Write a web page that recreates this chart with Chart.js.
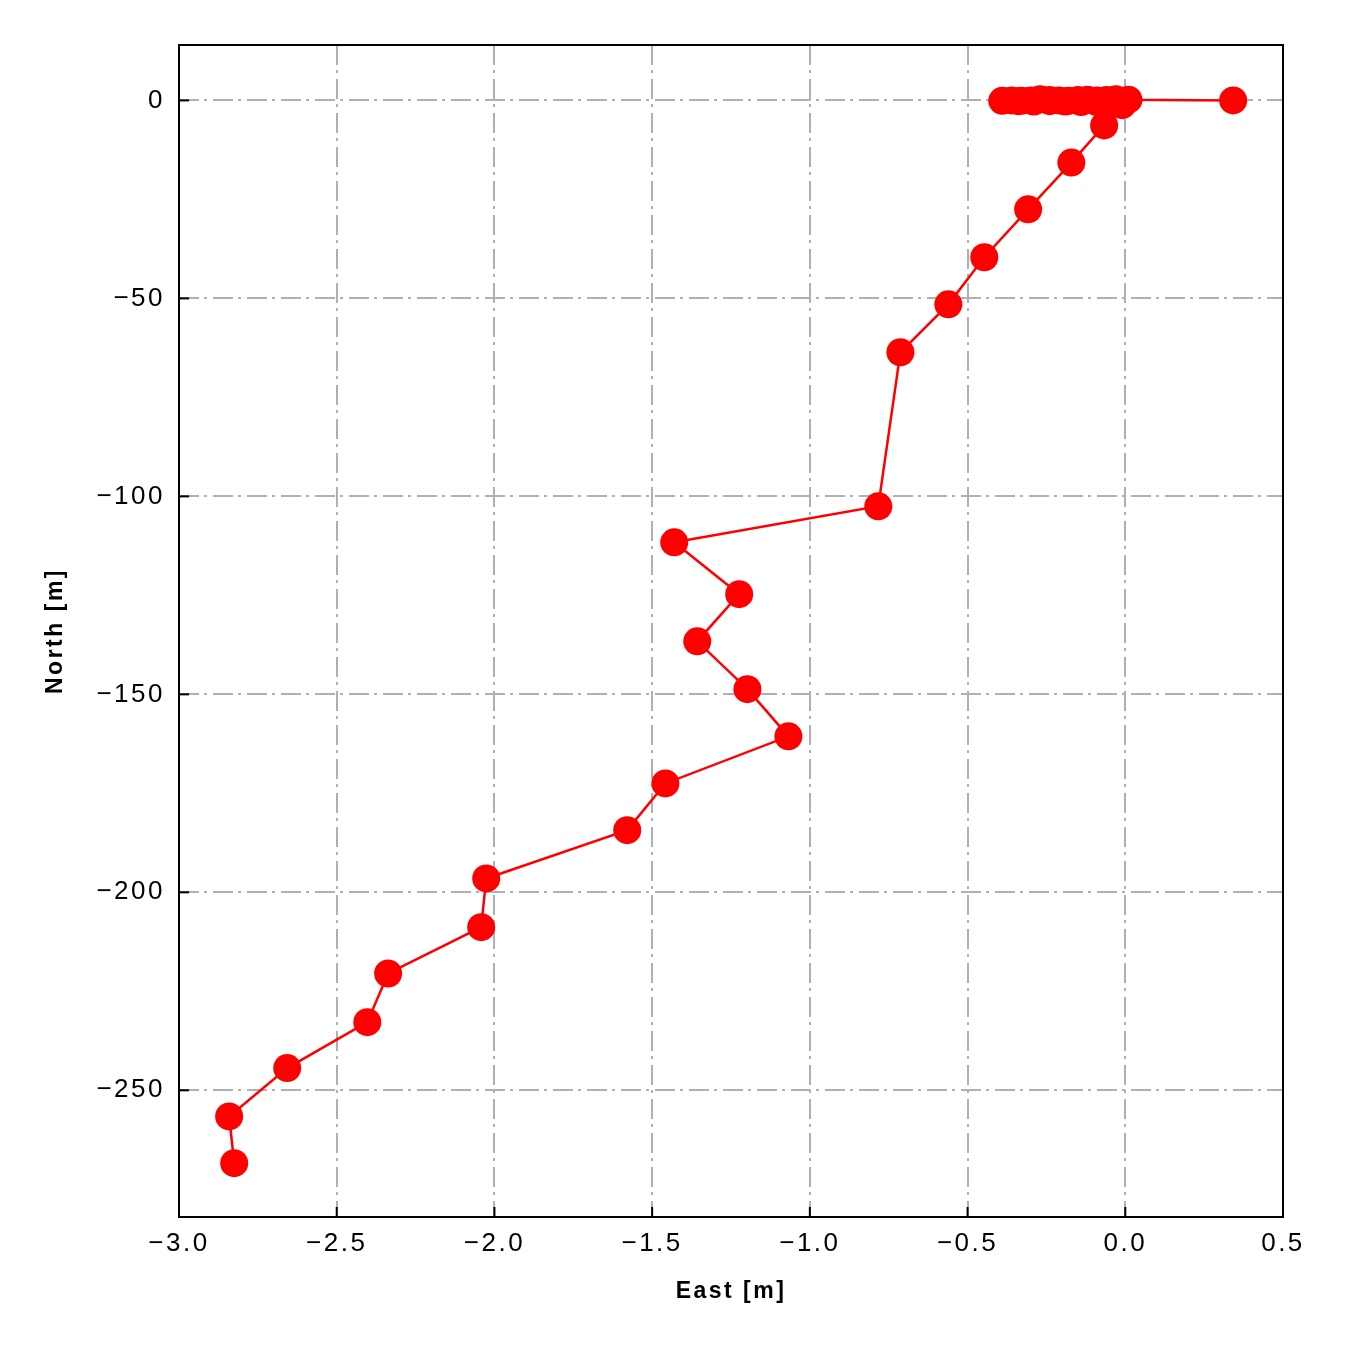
<!DOCTYPE html>
<html>
<head>
<meta charset="utf-8">
<script src="https://cdn.jsdelivr.net/npm/chart.js@4"></script>
<style>
  html, body { margin: 0; padding: 0; background: #fff; }
  #wrap { width: 1350px; height: 1350px; }
</style>
</head>
<body>
<div id="wrap"><canvas id="chartContainer" width="1350" height="1350"></canvas></div>
<script>
// track points, in order
const eastVals = [0.342, 0.01, -0.03, -0.06, -0.09, -0.12, -0.15, -0.18, -0.21, -0.24, -0.27, -0.3, -0.33, -0.36, -0.39,
  -0.34, -0.29, -0.24, -0.19, -0.14, -0.09, -0.04, -0.01,
  -0.067, -0.171, -0.308, -0.447, -0.561, -0.713, -0.783, -1.430, -1.224, -1.357, -1.198, -1.068,
  -1.458, -1.579, -2.026, -2.042, -2.337, -2.403, -2.657, -2.841, -2.825];
const northVals = [0, 0.2, 0.3, 0.1, 0.0, 0.2, 0.1, -0.1, 0.0, 0.1, 0.3, 0.0, -0.1, 0.0, -0.1,
  -0.2, -0.3, -0.2, -0.3, -0.4, -0.4, -0.6, -1.2,
  -6.3, -15.7, -27.5, -39.6, -51.5, -63.6, -102.5, -111.6, -124.7, -136.6, -148.7, -160.6,
  -172.5, -184.3, -196.5, -208.8, -220.5, -232.8, -244.4, -256.6, -268.4];

const xTicks = [-3.0, -2.5, -2.0, -1.5, -1.0, -0.5, 0.0, 0.5];
const yTicks = [0, -50, -100, -150, -200, -250];

function fmtMinus(s) {
  return s.replace('-', '\u2212')
}

// the reference font runs wide, spread the letters a bit
const spacing = {
  id: 'spacing',
  beforeLayout(chart) { chart.ctx.letterSpacing = '2.5px' },
  beforeDraw(chart) { chart.ctx.letterSpacing = '2.5px' },
}

const frame = {
  id: 'frame',
  afterDraw(chart) {
    const { ctx, chartArea: a, scales } = chart;
    ctx.save();
    ctx.strokeStyle = '#000';
    ctx.lineWidth = 2;
    // inward ticks
    xTicks.forEach((v) => {
      const px = scales.x.getPixelForValue(v);
      ctx.beginPath();
      ctx.moveTo(px, a.bottom);
      ctx.lineTo(px, a.bottom - 10);
      ctx.stroke();
    })
    yTicks.forEach((v) => {
      const py = scales.y.getPixelForValue(v);
      ctx.beginPath();
      ctx.moveTo(a.left, py);
      ctx.lineTo(a.left + 10, py);
      ctx.stroke();
    })
    ctx.strokeRect(a.left, a.top, a.right - a.left, a.bottom - a.top);
    ctx.restore();
  }
}

const grid = {
  display: true,
  color: '#b0b0b0',
  lineWidth: 2,
  drawTicks: false,
}

new Chart(document.getElementById('chartContainer'), {
  type: 'scatter',
  data: {
    datasets: [{
      data: eastVals.map((e, i) => ({ x: e, y: northVals[i] })),
      showLine: true,
      borderColor: '#ff0000',
      backgroundColor: '#ff0000',
      borderWidth: 2.5,
      pointRadius: 14,
      pointBorderWidth: 0,
      pointHoverRadius: 14,
    }]
  },
  options: {
    responsive: false,
    animation: false,
    events: [],
    layout: { padding: { top: 45, right: 67, left: 0, bottom: 0 } },
    plugins: { legend: { display: false }, tooltip: { enabled: false } },
    scales: {
      x: {
        type: 'linear',
        min: -3.0,
        max: 0.5,
        afterBuildTicks: (s) => { s.ticks = xTicks.map(v => ({ value: v })) },
        afterFit: (s) => { s.height = 133 },
        grid: grid,
        border: { display: false, dash: [20, 5, 3, 6] },
        ticks: {
          padding: 11,
          color: '#000',
          font: { family: 'Liberation Sans', size: 26 },
          maxRotation: 0,
          callback: (v) => fmtMinus(Number(v).toFixed(1)),
        },
        title: {
          display: true,
          text: 'East [m]',
          color: '#000',
          font: { family: 'Liberation Sans', size: 23, weight: 'bold' },
          padding: { top: 0, bottom: 45 },
        },
      },
      y: {
        type: 'linear',
        min: -282,
        max: 14,
        afterBuildTicks: (s) => { s.ticks = yTicks.map(v => ({ value: v })) },
        afterFit: (s) => { s.width = 179 },
        grid: grid,
        border: { display: false, dash: [20, 5, 3, 6] },
        ticks: {
          padding: 14,
          color: '#000',
          font: { family: 'Liberation Sans', size: 26 },
          callback: (v) => fmtMinus(String(v)),
        },
        title: {
          display: true,
          text: 'North [m]',
          color: '#000',
          font: { family: 'Liberation Sans', size: 23, weight: 'bold' },
          padding: { top: 42, bottom: 0 },
        },
      },
    },
  },
  plugins: [spacing, frame],
});
</script>
</body>
</html>
